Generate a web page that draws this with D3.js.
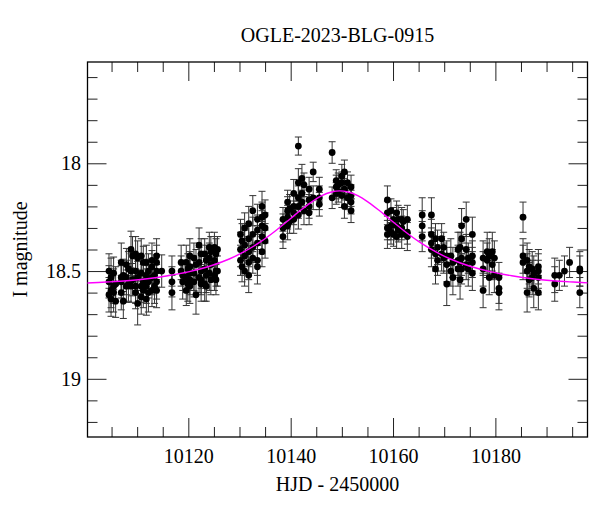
<!DOCTYPE html>
<html>
<head>
<meta charset="utf-8">
<script src="https://cdn.jsdelivr.net/npm/d3@7"></script>
<style>
  body { margin: 0; background: #fff; }
  text { font-family: "Liberation Serif", serif; fill: #000; }
</style>
</head>
<body>
<div id="chart"></div>
<script>
// one entry per group of observations taken close together (HJD - 2450000)
const obsTime = [
  10104.5, 10104.9, 10105.4, 10105.8, 10106.9, 10107.3, 10107.9, 10108.3, 10108.8, 10109.1,
  10109.7, 10110.1, 10110.8, 10111.2, 10111.8, 10112.2, 10112.9, 10113.4, 10113.8, 10114.8,
  10116.8,
  10118.6, 10118.9, 10119.6, 10119.9, 10120.3, 10121.1, 10121.5, 10122.1, 10122.5, 10123.2,
  10123.5, 10124.1, 10124.4, 10125.1, 10125.4, 10125.7,
  10130.2, 10130.5, 10131.0, 10131.8, 10132.6, 10133.5, 10134.4, 10135.0,
  10138.5, 10139.4, 10139.8, 10140.6, 10141.5, 10142.2, 10142.6, 10143.6, 10144.4, 10145.6,
  10148.1, 10148.9, 10149.3, 10150.0, 10150.5, 10151.1, 10151.8,
  10158.9, 10159.6, 10160.1, 10160.7, 10161.0, 10161.7, 10162.0, 10162.8,
  10165.7, 10167.5, 10168.3, 10168.7, 10169.5, 10169.9, 10170.5, 10171.3, 10171.7, 10172.7,
  10173.1, 10173.4, 10174.3, 10174.7, 10175.5, 10177.6, 10178.4, 10178.8, 10179.4, 10179.8,
  10180.7,
  10185.4, 10186.2, 10186.6, 10187.2, 10187.5, 10188.4,
  10191.6, 10192.5, 10193.5, 10194.5, 10196.5
];

const obsMag = [
  [18.50, 18.55, 18.61], [18.53, 18.59, 18.63], [18.51, 18.57, 18.60], [18.56, 18.64],
  [18.46, 18.53, 18.55, 18.60], [18.52, 18.64], [18.47, 18.53, 18.57], [18.49, 18.56],
  [18.40, 18.50, 18.57], [18.43, 18.54],
  [18.42, 18.50, 18.57, 18.60], [18.44, 18.53, 18.65], [18.43, 18.51, 18.57, 18.62],
  [18.46, 18.55, 18.59], [18.46, 18.52, 18.57, 18.63], [18.50, 18.55, 18.60],
  [18.45, 18.48, 18.53, 18.59], [18.52, 18.57], [18.43, 18.46, 18.50, 18.55, 18.59], [18.50],
  [18.50, 18.55, 18.60],
  [18.46, 18.50], [18.52, 18.55], [18.46, 18.53, 18.59], [18.49, 18.56],
  [18.43, 18.48, 18.51, 18.54, 18.57], [18.44, 18.51, 18.55], [18.47, 18.61],
  [18.38, 18.46, 18.53], [18.42, 18.50, 18.54, 18.56], [18.42, 18.49, 18.56],
  [18.45, 18.52, 18.57], [18.39, 18.44, 18.51], [18.41, 18.47, 18.54], [18.39, 18.45, 18.52],
  [18.42, 18.50, 18.54], [18.40, 18.50],
  [18.33, 18.40, 18.45], [18.36, 18.48], [18.30, 18.38, 18.43, 18.50],
  [18.28, 18.35, 18.41, 18.46, 18.52], [18.22, 18.33, 18.39, 18.44],
  [18.26, 18.31, 18.37, 18.45, 18.48], [18.20, 18.25, 18.29, 18.34, 18.41], [18.24, 18.30, 18.36],
  [18.26, 18.30, 18.34], [18.18, 18.22, 18.25, 18.29], [18.21, 18.27], [18.14, 18.20, 18.23, 18.26],
  [17.92, 18.09, 18.16, 18.20, 18.24], [18.07, 18.14, 18.18], [18.10, 18.22],
  [18.12, 18.17, 18.20, 18.23], [18.04, 18.16], [18.12, 18.16, 18.19],
  [17.95, 18.16], [18.08, 18.11, 18.14], [18.10, 18.13], [18.06, 18.09, 18.15],
  [18.04, 18.12, 18.20], [18.09, 18.16], [18.11, 18.15, 18.18, 18.22],
  [18.17, 18.23, 18.30, 18.33], [18.22, 18.29, 18.32], [18.26, 18.33], [18.23, 18.29, 18.34],
  [18.26, 18.31], [18.26, 18.30, 18.33], [18.27], [18.26, 18.32, 18.34],
  [18.24, 18.29, 18.34], [18.24, 18.33, 18.37, 18.40], [18.35, 18.42, 18.49], [18.39, 18.45],
  [18.35, 18.42], [18.39, 18.44], [18.43, 18.47, 18.56], [18.43, 18.50], [18.46, 18.53],
  [18.40, 18.45, 18.49],
  [18.39, 18.46, 18.54], [18.29, 18.35, 18.44, 18.49], [18.26, 18.40, 18.47], [18.44, 18.49],
  [18.33, 18.43, 18.46, 18.51], [18.44, 18.49, 18.59], [18.41, 18.45], [18.43, 18.53],
  [18.41, 18.47], [18.44, 18.52], [18.53, 18.58, 18.60],
  [18.25, 18.43, 18.46], [18.45, 18.50, 18.60], [18.48, 18.54], [18.49, 18.53], [18.51, 18.58],
  [18.48, 18.50, 18.53, 18.60],
  [18.52, 18.56], [18.52], [18.50], [18.46], [18.49, 18.50, 18.60]
];

const obsErr = [
  [0.08, 0.075, 0.08], [0.09, 0.08, 0.08], [0.075, 0.08, 0.09], [0.08, 0.075],
  [0.09, 0.08, 0.075, 0.08], [0.075, 0.08], [0.075, 0.08, 0.075], [0.08, 0.08],
  [0.085, 0.08, 0.075], [0.09, 0.075],
  [0.08, 0.075, 0.08, 0.075], [0.08, 0.075, 0.1], [0.08, 0.08, 0.075, 0.08],
  [0.075, 0.08, 0.08], [0.08, 0.075, 0.08, 0.075], [0.08, 0.075, 0.09],
  [0.08, 0.075, 0.08, 0.075], [0.075, 0.08], [0.08, 0.08, 0.075, 0.08, 0.08], [0.075],
  [0.07, 0.07, 0.08],
  [0.08, 0.07], [0.07, 0.08], [0.08, 0.07, 0.07], [0.07, 0.08],
  [0.08, 0.07, 0.08, 0.07, 0.08], [0.07, 0.08, 0.07], [0.07, 0.09],
  [0.08, 0.07, 0.07], [0.07, 0.08, 0.07, 0.08], [0.07, 0.07, 0.08],
  [0.07, 0.08, 0.07], [0.07, 0.07, 0.08], [0.07, 0.08, 0.07], [0.07, 0.07, 0.07],
  [0.07, 0.07, 0.07], [0.06, 0.07],
  [0.07, 0.08, 0.07], [0.08, 0.07], [0.07, 0.07, 0.08, 0.07],
  [0.08, 0.07, 0.07, 0.08, 0.08], [0.07, 0.08, 0.07, 0.07],
  [0.07, 0.07, 0.08, 0.07, 0.08], [0.07, 0.07, 0.07, 0.08, 0.07], [0.07, 0.07, 0.08],
  [0.055, 0.065, 0.055], [0.055, 0.065, 0.055, 0.065], [0.065, 0.055], [0.065, 0.055, 0.055, 0.065],
  [0.042, 0.065, 0.055, 0.055, 0.065], [0.065, 0.055, 0.055], [0.055, 0.065],
  [0.055, 0.055, 0.055, 0.055], [0.045, 0.055], [0.055, 0.055, 0.055],
  [0.05, 0.05], [0.05, 0.055, 0.05], [0.055, 0.05], [0.055, 0.05, 0.055],
  [0.055, 0.05, 0.055], [0.05, 0.055], [0.055, 0.05, 0.055, 0.055],
  [0.065, 0.055, 0.055, 0.065], [0.055, 0.065, 0.055], [0.055, 0.055], [0.055, 0.065, 0.055],
  [0.065, 0.055], [0.055, 0.055, 0.065], [0.055], [0.065, 0.055, 0.065],
  [0.08, 0.07, 0.07], [0.08, 0.07, 0.07, 0.08], [0.07, 0.08, 0.07], [0.08, 0.07],
  [0.07, 0.08], [0.07, 0.07], [0.07, 0.08, 0.1], [0.08, 0.07], [0.07, 0.08],
  [0.08, 0.07, 0.08],
  [0.07, 0.07, 0.09], [0.08, 0.07, 0.08, 0.07], [0.08, 0.07, 0.07], [0.07, 0.08],
  [0.08, 0.07, 0.07, 0.08], [0.08, 0.08, 0.08], [0.09, 0.08], [0.08, 0.08],
  [0.09, 0.07], [0.08, 0.08], [0.07, 0.07, 0.08],
  [0.07, 0.08, 0.08], [0.08, 0.08, 0.09], [0.08, 0.08], [0.08, 0.08], [0.08, 0.09],
  [0.08, 0.08, 0.08, 0.08],
  [0.08, 0.08], [0.07], [0.07], [0.07], [0.08, 0.07, 0.07]
];

// model light curve
const modelTime = [
  10100, 10104, 10108, 10112, 10116, 10120, 10124, 10128, 10131, 10134, 10137,
  10140, 10142, 10144, 10146, 10148, 10149.6, 10151.2, 10153.2, 10155.2, 10157.2,
  10159.2, 10162.2, 10165.2, 10168.2, 10171.2, 10175.2, 10179.2, 10183.2, 10187.2,
  10191.2, 10195.2, 10199.2
];
const modelMag = [
  18.556, 18.551, 18.545, 18.536, 18.522, 18.504, 18.479, 18.444, 18.409, 18.366, 18.314,
  18.256, 18.217, 18.181, 18.151, 18.133, 18.128, 18.133, 18.151, 18.181, 18.217,
  18.256, 18.314, 18.366, 18.409, 18.444, 18.479, 18.504, 18.522, 18.536,
  18.545, 18.551, 18.556
];

const xMajor = [10120, 10140, 10160, 10180];
const yMajor = [18, 18.5, 19];

const width = 600;
const height = 512;
const margin = {top: 62, right: 12.5, bottom: 75, left: 87.5};

const svg = d3.select('#chart')
  .append('svg')
  .attr('width', width)
  .attr('height', height);

const x = d3.scaleLinear()
  .domain([10100.3, 10198])
  .range([margin.left, width - margin.right]);

const y = d3.scaleLinear()
  .domain([17.53, 19.27])
  .range([margin.top, height - margin.bottom]);

const xMinor = d3.range(10105, 10198, 5).filter(v => !xMajor.includes(v));
const yMinor = d3.range(17.6, 19.25, 0.1).map(v => +v.toFixed(1)).filter(v => !yMajor.includes(v));

const plotW = width - margin.left - margin.right;
const plotH = height - margin.top - margin.bottom;

svg.append('defs').append('clipPath').attr('id', 'clip')
  .append('rect')
  .attr('x', margin.left).attr('y', margin.top)
  .attr('width', plotW).attr('height', plotH);

// ticks on all four sides, pointing into the plot (negative tick size)
function tickAxis(axis, scale, values, size, transform, labels) {
  const g = svg.append('g')
    .attr('transform', transform)
    .call(axis(scale).tickValues(values).tickSize(-size).tickPadding(labels ? labels.pad : 0)
      .tickFormat(labels ? d3.format('') : ''));
  g.select('.domain').remove();
  g.selectAll('.tick line').attr('stroke', '#222').attr('stroke-width', 1);
  g.selectAll('text').attr('font-size', '20px').attr('font-family', '"Liberation Serif", serif');
  return g;
}

const bottomT = `translate(0,${height - margin.bottom})`;
const topT = `translate(0,${margin.top})`;
const leftT = `translate(${margin.left},0)`;
const rightT = `translate(${width - margin.right},0)`;

tickAxis(d3.axisBottom, x, xMajor, 19, bottomT, {pad: 12});
tickAxis(d3.axisBottom, x, xMinor, 10, bottomT);
tickAxis(d3.axisTop, x, xMajor, 19, topT);
tickAxis(d3.axisTop, x, xMinor, 10, topT);
tickAxis(d3.axisLeft, y, yMajor, 19, leftT, {pad: 6.5});
tickAxis(d3.axisLeft, y, yMinor, 10, leftT);
tickAxis(d3.axisRight, y, yMajor, 19, rightT);
tickAxis(d3.axisRight, y, yMinor, 10, rightT);

svg.append('rect')
  .attr('x', margin.left).attr('y', margin.top)
  .attr('width', plotW).attr('height', plotH)
  .attr('fill', 'none').attr('stroke', '#000').attr('stroke-width', 1.3);

const points = [];
obsTime.forEach((t, i) => {
  obsMag[i].forEach((m, j) => points.push({t: t, m: m, e: obsErr[i][j]}));
});

const plot = svg.append('g').attr('clip-path', 'url(#clip)');

const bars = plot.append('g')
  .attr('stroke', '#333')
  .attr('stroke-width', 1)
  .selectAll('g')
  .data(points)
  .join('g');

bars.append('line')
  .attr('x1', d => x(d.t)).attr('x2', d => x(d.t))
  .attr('y1', d => y(d.m - d.e)).attr('y2', d => y(d.m + d.e));
bars.append('line')
  .attr('x1', d => x(d.t) - 3.5).attr('x2', d => x(d.t) + 3.5)
  .attr('y1', d => y(d.m - d.e)).attr('y2', d => y(d.m - d.e));
bars.append('line')
  .attr('x1', d => x(d.t) - 3.5).attr('x2', d => x(d.t) + 3.5)
  .attr('y1', d => y(d.m + d.e)).attr('y2', d => y(d.m + d.e));

plot.append('g')
  .selectAll('circle')
  .data(points)
  .join('circle')
    .attr('cx', d => x(d.t))
    .attr('cy', d => y(d.m))
    .attr('r', 3.4)
    .attr('fill', '#000');

const model = modelTime.map((t, i) => [t, modelMag[i]]);
plot.append('path')
  .datum(model)
  .attr('fill', 'none')
  .attr('stroke', '#ff00ff')
  .attr('stroke-width', 1.4)
  .attr('d', d3.line().x(d => x(d[0])).y(d => y(d[1])).curve(d3.curveCatmullRom));

svg.append('text')
  .attr('x', (margin.left + width - margin.right) / 2)
  .attr('y', 41.5)
  .attr('text-anchor', 'middle')
  .attr('font-size', '20px')
  .text('OGLE-2023-BLG-0915');

svg.append('text')
  .attr('x', (margin.left + width - margin.right) / 2)
  .attr('y', 491)
  .attr('text-anchor', 'middle')
  .attr('font-size', '20px')
  .text('HJD - 2450000');

svg.append('text')
  .attr('transform', `translate(27,${margin.top + plotH / 2}) rotate(-90)`)
  .attr('text-anchor', 'middle')
  .attr('font-size', '20px')
  .text('I magnitude');
</script>
</body>
</html>
